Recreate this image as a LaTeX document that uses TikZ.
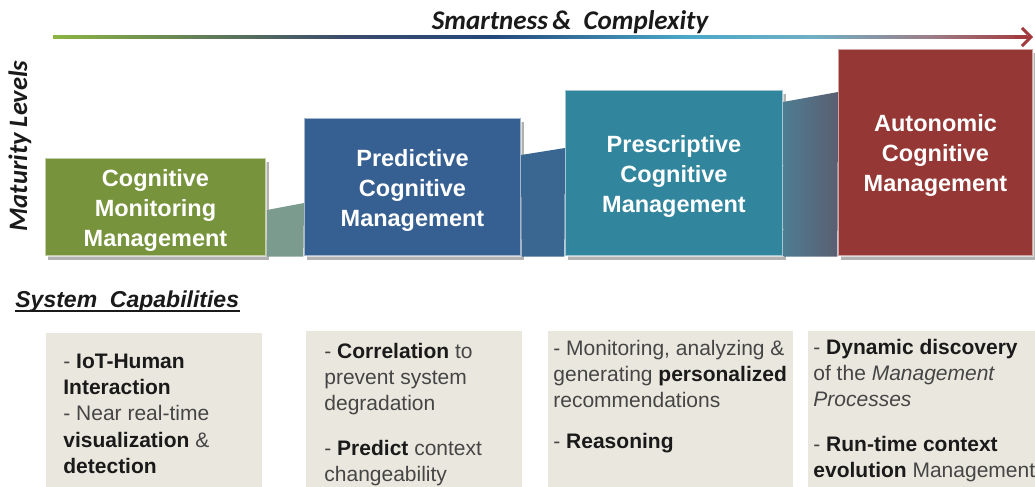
\documentclass[tikz,border=0pt]{standalone}
\usepackage{fontspec}
\setmainfont{Liberation Sans}
\newfontfamily\calib{Carlito}
\usetikzlibrary{arrows.meta,shadows}
\definecolor{cgreen}{HTML}{77933C}
\definecolor{cblue}{HTML}{376092}
\definecolor{cteal}{HTML}{31859C}
\definecolor{cred}{HTML}{953735}
\definecolor{cbeige}{HTML}{EAE8DE}
\definecolor{ctext}{HTML}{454545}
\definecolor{cdark}{HTML}{1A1A1A}
\definecolor{conA}{HTML}{7C9B8F}
\definecolor{conB}{HTML}{3A6792}
\definecolor{conCl}{HTML}{4E7D92}
\definecolor{conCr}{HTML}{5B5E71}
\definecolor{sA}{HTML}{8DB443}
\definecolor{sB}{HTML}{3B4A6C}
\definecolor{sC}{HTML}{24487A}
\definecolor{sD}{HTML}{4AA8C8}
\definecolor{sE}{HTML}{6FAFC4}
\definecolor{sF}{HTML}{9C7E88}
\definecolor{sG}{HTML}{A33A3E}
\pgfdeclarehorizontalshading{arrowshade}{100bp}{color(0bp)=(sA); color(25bp)=(sA); color(40bp)=(sB); color(47.5bp)=(sC); color(57.5bp)=(sD); color(64bp)=(sE); color(70bp)=(sF); color(75bp)=(sG); color(100bp)=(sG)}
\newcommand\capb[1]{\textbf{\color{cdark}#1}}
\newcommand\topstrut{\rule{0pt}{11.5pt}}
\tikzset{
  lvlbox/.style={rectangle, inner sep=0pt, draw=white, draw opacity=0.55, line width=0.6pt,
    text=white, font=\bfseries\fontsize{11.75}{15}\selectfont, align=center,
    drop shadow={shadow xshift=1.5pt, shadow yshift=-2pt, opacity=0.3, fill=black}},
  capbox/.style={rectangle, inner sep=0pt, fill=cbeige, anchor=north west},
  captext/.style={anchor=base west, inner sep=0pt, text=ctext, font=\fontsize{10.5}{13.2}\selectfont},
  lbl/.style={inner sep=0pt, text=cdark}
}
\begin{document}
\begin{tikzpicture}[x=0.5pt,y=-0.5pt]
\useasboundingbox (0,0) rectangle (1035,487);
% top arrow
\coordinate (arrS) at (53,37);
\coordinate (arrE) at (1033,37);
\shade[shading=arrowshade] (53,35.5) rectangle (1027,38.5);
\draw[sG, line width=1.5pt, -{Straight Barb[length=4.5pt,width=9pt]}] (1015,37) -- (arrE);
\node[lbl, font=\calib\bfseries\itshape\fontsize{13.5}{15}\selectfont] (title) at (570,22) {Smartness\,\&~~Complexity};
% side label
\node[lbl, rotate=90, font=\calib\bfseries\itshape\fontsize{13.3}{15}\selectfont] (mat) at (20,146) {Maturity Levels};
% connector points
\coordinate (c1a) at (267,210);
\coordinate (c1b) at (304,203);
\coordinate (c2a) at (521,155);
\coordinate (c2b) at (565,148);
\coordinate (c3a) at (783,102);
\coordinate (c3b) at (838,92);
% level boxes
\node[lvlbox, fill=cgreen, minimum width=110.5pt, minimum height=49pt] (lv1) at (155.5,207) {\topstrut Cognitive\\Monitoring\\Management};
\node[lvlbox, fill=cblue, minimum width=108.5pt, minimum height=69pt] (lv2) at (412.5,187) {\topstrut Predictive\\Cognitive\\Management};
\node[lvlbox, fill=cteal, minimum width=109pt, minimum height=83pt] (lv3) at (674,173) {\topstrut Prescriptive\\Cognitive\\Management};
\node[lvlbox, fill=cred, minimum width=97.5pt, minimum height=103.5pt] (lv4) at (935.5,152.5) {\topstrut Autonomic\\Cognitive\\Management};
% connectors
\fill[conA] (lv1.south east) -- (c1a) -- (c1b) -- (lv2.south west) -- cycle;
\fill[conB] (lv2.south east) -- (c2a) -- (c2b) -- (lv3.south west) -- cycle;
\shade[left color=conCl, right color=conCr] (lv3.south east) -- (c3a) -- (c3b) -- (lv4.south west) -- cycle;
% system capabilities
\node[lbl, anchor=base west, font=\bfseries\itshape\fontsize{11.5}{13}\selectfont] (syscap) at (15,307) {System~~Capabilities};
\draw[cdark, line width=1pt] ([yshift=-2.2pt]syscap.base west) -- ([yshift=-2.2pt]syscap.base east);
\node[capbox, minimum width=108pt, minimum height=77pt] (b1) at (46,333) {};
\node[capbox, minimum width=108pt, minimum height=78pt] (b2) at (306,331) {};
\node[capbox, minimum width=122.5pt, minimum height=78pt] (b3) at (548,331) {};
\node[capbox, minimum width=113.5pt, minimum height=78pt] (b4) at (808,331) {};
\node[captext] (t1) at (63,368) {\parbox[t]{150pt}{\raggedright
- \capb{IoT-Human}\\ \capb{Interaction}\\ - Near real-time\\ \capb{visualization} \&\\ \capb{detection}}};
\node[captext] (t2) at (324,358) {\parbox[t]{150pt}{\raggedright
- \capb{Correlation} to\\ prevent system\\ degradation\par\vspace{9pt}
- \capb{Predict} context\\ changeability}};
\node[captext] (t3) at (553,355) {\parbox[t]{150pt}{\raggedright
- Monitoring, analyzing \&\\ generating \capb{personalized}\\ recommendations\par\vspace{7pt}
- \capb{Reasoning}}};
\node[captext] (t4) at (813,354) {\parbox[t]{150pt}{\raggedright
- \capb{Dynamic discovery}\\ of the \textit{Management}\\ \textit{Processes}\par\vspace{9pt}
- \capb{Run-time context}\\ \capb{evolution} Management}};
\end{tikzpicture}
\end{document}
